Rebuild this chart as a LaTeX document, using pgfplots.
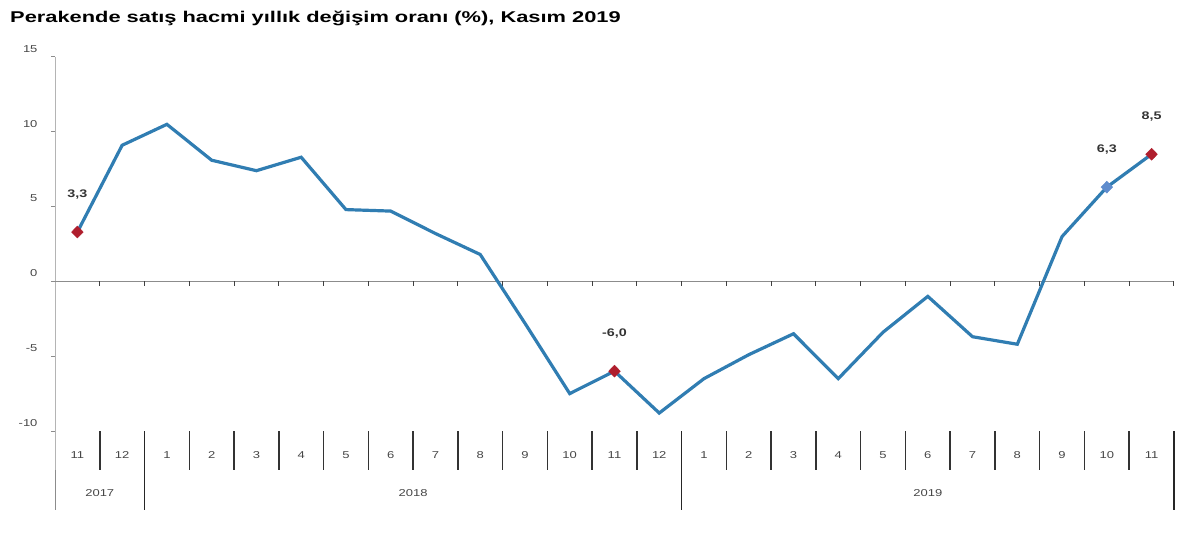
\documentclass[border=0pt]{standalone}
\usepackage{fontspec}
\setmainfont{Liberation Sans}
\newfontfamily\wfont[FakeStretch=1.3]{Liberation Sans}
\newfontfamily\tfont[FakeStretch=1.4]{Liberation Sans}
\usepackage{pgfplots}
\pgfplotsset{compat=1.18}
\definecolor{linecol}{RGB}{48,125,178}
\definecolor{mred}{RGB}{175,30,45}
\definecolor{mblue}{RGB}{95,140,205}
\definecolor{axgray}{RGB}{140,140,140}
\definecolor{txtgray}{RGB}{70,70,70}
\begin{document}
\begin{tikzpicture}[x=1pt,y=1pt]
\useasboundingbox (0,0) rectangle (1200,536);
\node[anchor=base west, inner sep=0pt, font=\tfont\bfseries\fontsize{15.6}{17}\selectfont] at (10,513) {Perakende satış hacmi yıllık değişim oranı (\%), Kasım 2019};
\begin{axis}[
  at={(55pt,105pt)}, anchor=south west,
  scale only axis, width=1119pt, height=374pt,
  xmin=-0.5, xmax=24.5, ymin=-10, ymax=15,
  clip=false,
  axis line style={draw=none},
  /pgf/number format/assume math mode=true,
  ytick={-10,-5,0,5,10,15},
  ytick pos=left, tick align=outside,
  major tick length=4pt,
  y tick style={axgray, line width=1pt},
  y tick label style={font=\wfont\fontsize{10}{12}\selectfont, text=txtgray, yshift=8pt, xshift=-10pt},
  xtick={0,...,24},
  xticklabels={11,12,1,2,3,4,5,6,7,8,9,10,11,12,1,2,3,4,5,6,7,8,9,10,11},
  x tick style={draw=none},
  xtick pos=bottom,
  x tick label style={font=\wfont\fontsize{10}{12}\selectfont, text=txtgray, yshift=-13pt},
]
% axes
\draw[axgray, line width=1pt] (axis cs:-0.5,15) -- (axis cs:-0.5,-10) -- ([yshift=-79pt]axis cs:-0.5,-10);
\draw[axgray, line width=1pt] (axis cs:-0.5,0) -- (axis cs:24.5,0);
\pgfplotsinvokeforeach{0.5,1.5,2.5,3.5,4.5,5.5,6.5,7.5,8.5,9.5,10.5,11.5,12.5,13.5,14.5,15.5,16.5,17.5,18.5,19.5,20.5,21.5,22.5,23.5,24.5}{\draw[black!75, line width=1pt] (axis cs:#1,0) -- ([yshift=-5pt]axis cs:#1,0);}
\pgfplotsinvokeforeach{0.5,2.5,3.5,4.5,5.5,6.5,7.5,8.5,9.5,10.5,11.5,12.5,14.5,15.5,16.5,17.5,18.5,19.5,20.5,21.5,22.5,23.5}{\draw[black!80, line width=1.5pt] (axis cs:#1,-10) -- ([yshift=-39pt]axis cs:#1,-10);}
\pgfplotsinvokeforeach{1.5,13.5,24.5}{\draw[black!85, line width=1.5pt] (axis cs:#1,-10) -- ([yshift=-79pt]axis cs:#1,-10);}
\node[font=\wfont\fontsize{10}{12}\selectfont, text=txtgray] at ([yshift=-62pt]axis cs:0.5,-10) {2017};
\node[font=\wfont\fontsize{10}{12}\selectfont, text=txtgray] at ([yshift=-62pt]axis cs:7.5,-10) {2018};
\node[font=\wfont\fontsize{10}{12}\selectfont, text=txtgray] at ([yshift=-62pt]axis cs:19,-10) {2019};
% data
\addplot[linecol, line width=3.2pt, mark=none] coordinates {
(0,3.3) (1,9.1) (2,10.5) (3,8.1) (4,7.4) (5,8.3) (6,4.8) (7,4.7) (8,3.2) (9,1.8)
(10,-2.8) (11,-7.5) (12,-6.0) (13,-8.8) (14,-6.5) (15,-4.9) (16,-3.5) (17,-6.5)
(18,-3.4) (19,-1.0) (20,-3.7) (21,-4.2) (22,3.0) (23,6.3) (24,8.5)};
\addplot[only marks, mark=diamond*, mark size=6pt, mark options={xscale=1.3}, mred,
  nodes near coords, point meta=explicit symbolic,
  every node near coord/.style={font=\wfont\bfseries\fontsize{11}{12}\selectfont, text=black!80, anchor=center, yshift=38pt}]
  coordinates {(0,3.3) [{3,3}] (12,-6.0) [{-6,0}] (24,8.5) [{8,5}]};
\addplot[only marks, mark=diamond*, mark size=6pt, mark options={xscale=1.3}, mblue,
  nodes near coords, point meta=explicit symbolic,
  every node near coord/.style={font=\wfont\bfseries\fontsize{11}{12}\selectfont, text=black!80, anchor=center, yshift=38pt}]
  coordinates {(23,6.3) [{6,3}]};
\end{axis}
\end{tikzpicture}
\end{document}
